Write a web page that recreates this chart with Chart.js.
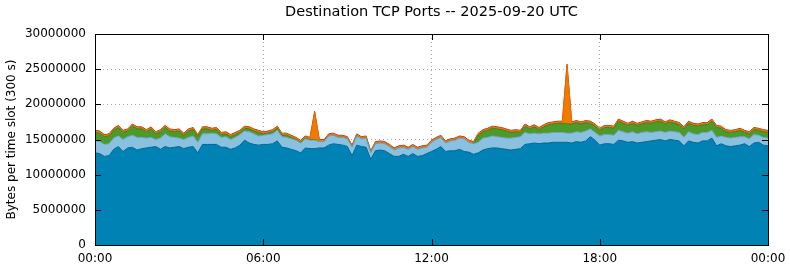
<!DOCTYPE html>
<html>
<head>
<meta charset="utf-8">
<script src="https://cdn.jsdelivr.net/npm/chart.js@4.4.0/dist/chart.umd.min.js"></script>
<style>
  html, body { margin: 0; padding: 0; background: #fff; }
  #wrap { width: 790px; height: 267px; }
</style>
</head>
<body>
<div id="wrap"><canvas id="grafico" width="790" height="267"></canvas></div>
<script>
    // values, millions of bytes per slot, one point every 10 minutes
    var titulo = 'Destination TCP Ports -- 2025-09-20 UTC';
    var yTitulo = 'Bytes per time slot (300 s)';
    var xTickLabels = ['00:00', '06:00', '12:00', '18:00', '00:00'];

    var dark = [
        13.1,13.0,12.6,12.7,13.6,14.0,13.3,13.8,13.9,13.5,13.7,13.8,13.9,14.0,13.6,14.0,13.8,13.9,14.0,13.7,13.9,14.0,13.1,14.3,14.3,
        14.3,14.3,13.9,13.9,13.6,13.8,14.2,14.9,14.5,14.3,14.2,14.3,14.3,14.4,14.8,13.9,13.8,13.6,13.4,13.1,13.8,13.7,13.7,
        13.8,13.8,14.2,14.4,14.3,14.2,14.0,12.7,14.2,14.0,13.9,12.2,13.4,13.5,13.4,13.0,12.6,12.6,12.9,12.6,13.0,12.6,12.7,13.0,
        13.3,13.6,14.0,13.3,13.4,13.4,13.6,13.3,13.2,12.9,13.1,13.5,13.7,13.8,13.8,13.7,13.6,13.5,13.6,13.7,14.3,14.4,14.5,14.4,
        14.5,14.5,14.6,14.6,14.6,14.6,14.5,14.7,14.6,14.8,15.4,14.9,14.2,14.4,14.4,14.3,14.9,14.8,14.6,14.7,14.5,14.6,14.7,
        14.8,14.9,15.0,14.8,15.0,14.9,14.8,14.1,14.8,14.6,14.5,14.8,14.8,15.2,14.1,14.4,14.1,14.0,14.1,14.2,14.4,14.0,14.5,14.6,14.2,14.1
    ];
    var light = [
        1.7,1.7,1.7,1.7,1.6,1.5,1.7,1.6,1.7,1.8,1.6,1.4,1.4,1.0,1.6,1.8,1.6,1.4,1.2,1.3,1.4,1.5,1.5,1.5,1.5,
        1.6,1.5,1.4,1.5,1.4,1.5,1.5,1.3,1.6,1.5,1.3,1.3,1.4,1.4,1.5,1.5,1.5,1.5,1.5,1.4,1.3,1.2,1.2,
        0.9,0.9,1.3,1.2,1.0,1.1,1.1,1.2,1.3,1.1,1.3,0.9,1.0,1.0,1.0,1.0,0.9,1.2,1.0,1.0,1.0,1.0,1.1,0.9,
        1.3,1.4,1.3,1.2,1.4,1.5,1.6,1.8,1.4,1.5,1.5,1.7,1.6,1.7,1.6,1.6,1.6,1.7,1.7,1.7,1.7,1.4,1.4,1.4,
        1.4,1.4,1.4,1.4,1.4,1.3,1.4,1.4,1.4,1.4,1.1,1.1,1.3,1.3,1.3,1.3,1.4,1.3,1.3,1.4,1.3,1.4,1.4,
        1.2,1.2,1.2,1.2,1.2,1.2,1.2,1.2,1.3,1.2,1.2,1.2,1.2,1.1,1.2,1.1,1.2,1.2,1.2,1.2,1.0,1.1,1.2,1.0,1.1,1.1
    ];
    var green = [
        1.2,1.2,1.1,1.1,1.1,1.2,1.0,0.8,1.3,1.2,1.2,0.9,1.2,0.8,0.9,0.9,0.8,0.8,1.0,0.6,0.9,0.9,0.8,0.7,0.7,
        0.4,0.6,0.4,0.4,0.4,0.4,0.3,0.4,0.4,0.4,0.5,0.2,0.2,0.3,0.3,0.2,0.3,0.2,0.1,0.1,0.1,0.1,0.1,
        0,0,0,0,0,0,0,0,0,0,0,0,0,0,0,0,0,0,0,0,0,0,0,0,
        0,0,0,0,0,0,0,0,0,0,1.0,0.9,1.0,1.1,1.1,1.1,1.0,0.8,0.8,0.6,0.9,0.7,0.9,0.6,
        0.9,1.2,1.2,1.3,1.3,1.3,1.3,1.3,1.2,1.2,0.8,0.9,0.8,1.0,1.0,1.0,1.3,1.2,1.1,1.2,1.2,1.2,1.3,
        1.3,1.4,1.4,1.2,1.3,1.2,1.1,1.2,1.2,1.2,1.2,1.1,1.1,1.3,1.4,1.1,0.8,0.8,0.8,0.9,0.6,0.7,0.7,0.7,0.8,0.8
    ];
    var orange = [
        0.2,0.2,0.2,0.2,0.2,0.2,0.2,0.2,0.2,0.2,0.2,0.2,0.2,0.2,0.2,0.2,0.2,0.2,0.2,0.2,0.2,0.2,0.2,0.2,
        0.2,0.2,0.2,0.2,0.2,0.2,0.2,0.2,0.2,0.2,0.2,0.2,0.2,0.2,0.2,0.2,0.2,0.2,0.2,0.2,0.2,0.2,0.2,3.9,
        0.2,0.2,0.2,0.2,0.2,0.2,0.2,0.2,0.2,0.2,0.2,0.2,0.2,0.2,0.2,0.2,0.2,0.2,0.2,0.2,0.2,0.2,0.2,0.2,
        0.2,0.2,0.2,0.2,0.2,0.2,0.2,0.2,0.2,0.2,0.2,0.2,0.2,0.2,0.2,0.2,0.2,0.2,0.2,0.2,0.2,0.2,0.2,0.2,
        0.2,0.2,0.2,0.2,0.2,8.4,0.2,0.2,0.2,0.2,0.2,0.2,0.2,0.2,0.2,0.2,0.2,0.2,0.2,0.2,0.2,0.2,0.2,0.2,
        0.2,0.2,0.2,0.2,0.2,0.2,0.2,0.2,0.2,0.2,0.2,0.2,0.2,0.2,0.2,0.2,0.2,0.2,0.2,0.2,0.2,0.2,0.2,0.2,0.2
    ];
    var red = [
        0.1,0.1,0.1,0.1,0.1,0.1,0.1,0.1,0.1,0.1,0.1,0.1,0.1,0.1,0.1,0.1,0.1,0.1,0.1,0.1,0.1,0.1,0.1,0.1,
        0.1,0.1,0.1,0.1,0.1,0.1,0.1,0.1,0.1,0.1,0.1,0.1,0.1,0.1,0.1,0.1,0.1,0.1,0.1,0.1,0.1,0.1,0.1,0.1,
        0.1,0.1,0.1,0.1,0.1,0.1,0.1,0.1,0.1,0.1,0.1,0.1,0.1,0.1,0.1,0.1,0.1,0.1,0.1,0.1,0.1,0.1,0.1,0.1,
        0.1,0.1,0.1,0.1,0.1,0.1,0.1,0.1,0.1,0.1,0.1,0.1,0.1,0.1,0.1,0.1,0.1,0.1,0.1,0.1,0.1,0.1,0.1,0.1,
        0.1,0.1,0.1,0.1,0.1,0.1,0.1,0.1,0.1,0.1,0.1,0.1,0.1,0.1,0.1,0.1,0.1,0.1,0.1,0.1,0.1,0.1,0.1,0.1,
        0.1,0.1,0.1,0.1,0.1,0.1,0.1,0.1,0.1,0.1,0.1,0.1,0.1,0.1,0.1,0.1,0.1,0.1,0.1,0.1,0.1,0.1,0.1,0.1,0.1
    ];

    // minutes since midnight for each point
    var minutos = [];
    for (var i = 0; i < dark.length; i++) minutos.push(i * 10);

    function pontos(valores) {
        return valores.map(function(v, i) { return { x: minutos[i], y: v * 1e6 }; });
    }

    function camada(valores, cor, borda, fill) {
        return {
            data: pontos(valores),
            backgroundColor: cor,
            borderColor: borda,
            borderWidth: 1,
            pointRadius: 0,
            tension: 0,
            fill: fill
        };
    }

    // frame, inward tics and title, gnuplot style
    var moldura = {
        id: 'moldura',
        afterDatasetsDraw: function(chart) {
            var ctx = chart.ctx, a = chart.chartArea, x = chart.scales.x, y = chart.scales.y;
            ctx.save();
            ctx.strokeStyle = '#000';
            ctx.lineWidth = 1;
            ctx.beginPath();
            y.ticks.forEach(function(t) {
                var py = Math.round(y.getPixelForValue(t.value)) + 0.5;
                ctx.moveTo(a.left, py); ctx.lineTo(a.left + 6, py);
                ctx.moveTo(a.right, py); ctx.lineTo(a.right - 6, py);
            });
            x.ticks.forEach(function(t) {
                var px = Math.round(x.getPixelForValue(t.value)) + 0.5;
                ctx.moveTo(px, a.bottom); ctx.lineTo(px, a.bottom - 6);
                ctx.moveTo(px, a.top); ctx.lineTo(px, a.top + 6);
            });
            ctx.stroke();
            ctx.strokeRect(a.left + 0.5, a.top + 0.5, a.right - a.left, a.bottom - a.top);
            ctx.fillStyle = '#000';
            ctx.font = '14.5px "DejaVu Sans"';
            ctx.textAlign = 'center';
            ctx.textBaseline = 'middle';
            ctx.fillText(titulo, (a.left + a.right) / 2, 12);
            ctx.restore();
        }
    };

    Chart.defaults.font.family = '"DejaVu Sans", sans-serif';
    Chart.defaults.font.size = 12;
    Chart.defaults.color = '#000';

    new Chart(document.getElementById('grafico').getContext('2d'), {
        type: 'line',
        data: {
            datasets: [
                camada(dark, 'rgb(0,130,180)', 'rgb(0,100,150)', 'origin'),
                camada(light, 'rgb(138,192,224)', 'rgb(110,160,190)', '-1'),
                camada(green, 'rgb(76,154,42)', 'rgb(60,125,32)', '-1'),
                camada(orange, 'rgb(242,122,0)', 'rgb(230,110,0)', '-1'),
                camada(red, 'rgb(200,60,30)', 'rgb(185,55,25)', '-1')
            ]
        },
        options: {
            responsive: false,
            animation: false,
            layout: { padding: { left: 0, right: 22, top: 34, bottom: 0 } },
            plugins: { legend: { display: false }, tooltip: { enabled: false } },
            scales: {
                x: {
                    type: 'linear',
                    min: 0,
                    max: 1440,
                    afterFit: function(s) {
                        s.height = 22;
                        s.paddingLeft = 0;
                        s.paddingRight = 0;
                    },
                    ticks: {
                        stepSize: 360,
                        padding: 7,
                        maxRotation: 0,
                        callback: function(v) { return xTickLabels[v / 360]; }
                    },
                    grid: { color: 'rgb(170,170,170)', drawTicks: false },
                    border: { display: false, dash: [1, 3] }
                },
                y: {
                    stacked: true,
                    min: 0,
                    max: 30000000,
                    afterFit: function(s) { s.width = 95; },
                    ticks: {
                        stepSize: 5000000,
                        padding: 9,
                        callback: function(v) { return String(v); }
                    },
                    grid: { color: 'rgb(170,170,170)', drawTicks: false },
                    border: { display: false, dash: [1, 3] },
                    title: { display: true, text: yTitulo, padding: { top: 5, bottom: 0 } }
                }
            }
        },
        plugins: [moldura]
    });
</script>
</body>
</html>
